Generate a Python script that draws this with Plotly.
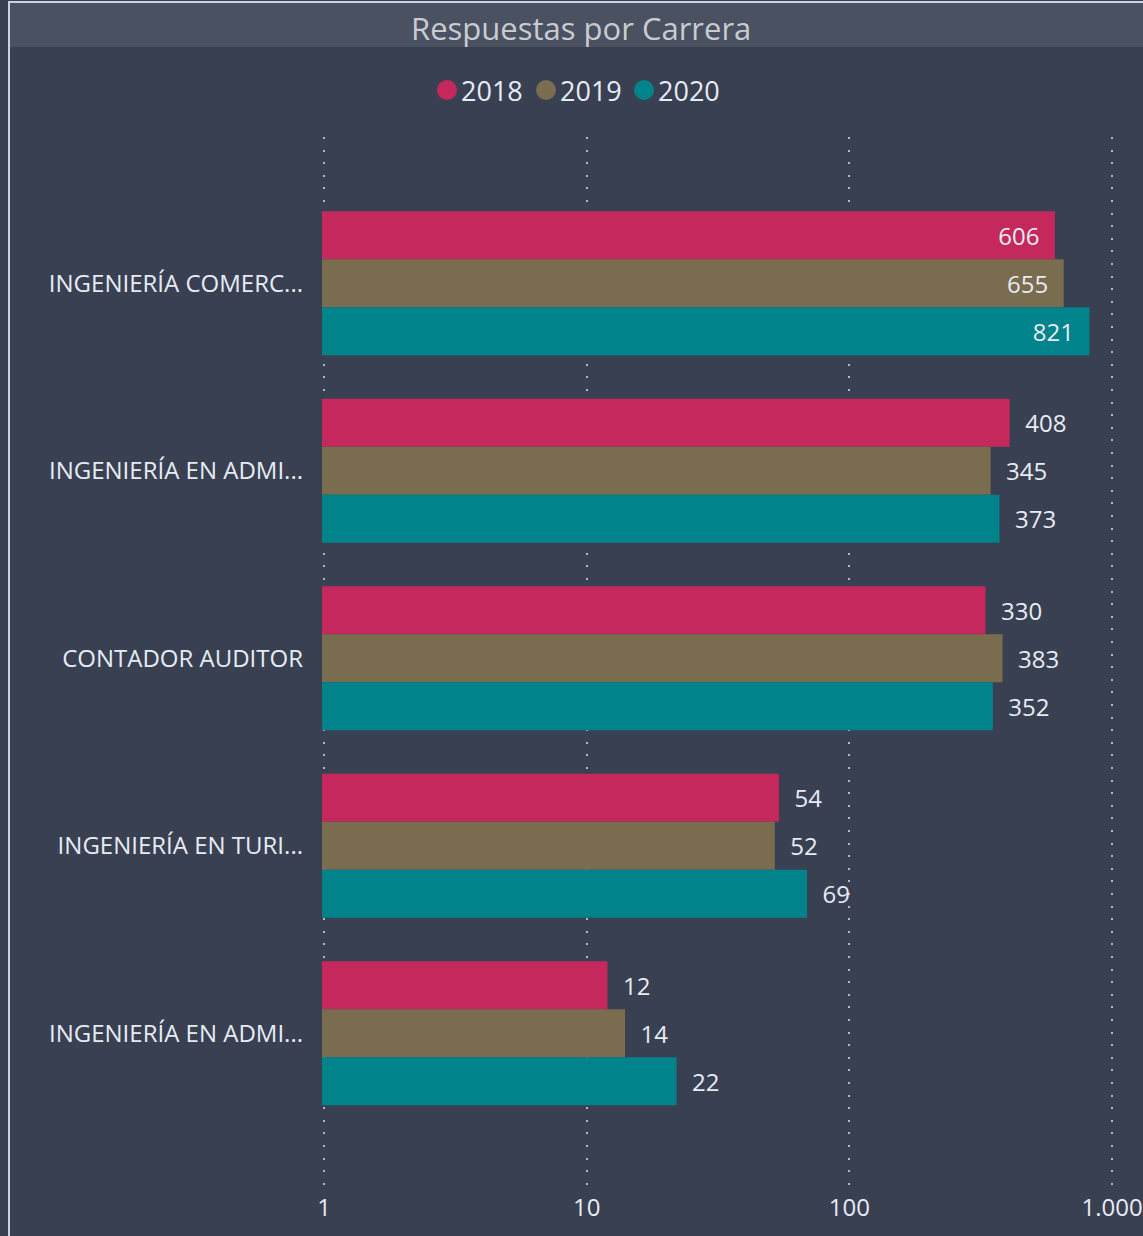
import plotly.graph_objects as go

categories = ["INGENIERÍA COMERC...", "INGENIERÍA EN ADMI...", "CONTADOR AUDITOR",
              "INGENIERÍA EN TURI...", "INGENIERÍA EN ADMI..."]
years = ["2018", "2019", "2020"]
values = {
    "2018": [606, 408, 330, 54, 12],
    "2019": [655, 345, 383, 52, 14],
    "2020": [821, 373, 352, 69, 22],
}
colors = {"2018": "#C4285D", "2019": "#7A6C4F", "2020": "#00838A"}
tick_vals = [1, 10, 100, 1000]
tick_text = ["1", "10", "100", "1.000"]

W, H = 1143, 1236
DEC = 262.3  # pixels per decade
PADPX = 2
L, R, T, B = 324 - PADPX, 1112 + PADPX, 137, 1185
pw, ph = R - L, B - T
def px_x(p): return (p - L) / pw
def px_y(p): return (B - p) / ph

BG = "#394051"
FONT = "Open Sans"
TXT = "#E6ECF5"

cat_pos = list(range(len(categories)))

fig = go.Figure()
for yr in years:
    vals = values[yr]
    pos = ["inside" if v > 500 else "outside" for v in vals]
    tmpl = ["%{x}  " if v > 500 else "  %{x}" for v in vals]
    fig.add_trace(go.Bar(
        y=cat_pos, x=vals, orientation="h", name=yr,
        marker=dict(color=colors[yr], line=dict(width=0)),
        textposition=pos, texttemplate=tmpl,
        insidetextanchor="end",
        textfont=dict(family=FONT, size=24, color=TXT),
        cliponaxis=False, showlegend=False,
    ))

shapes = [
    dict(type="rect", xref="paper", yref="paper", x0=px_x(10), x1=px_x(1150),
         y0=px_y(47), y1=px_y(3), fillcolor="#4A5161", line=dict(width=0), layer="below"),
    dict(type="line", xref="paper", yref="paper", x0=px_x(9), x1=px_x(9),
         y0=px_y(1240), y1=px_y(2), line=dict(color="#C9D2E3", width=2)),
    dict(type="line", xref="paper", yref="paper", x0=px_x(8), x1=px_x(1150),
         y0=px_y(2), y1=px_y(2), line=dict(color="#C9D2E3", width=2)),
]
annotations = [dict(text="Respuestas por Carrera", xref="paper", yref="paper",
                    x=px_x(581), y=px_y(28), xanchor="center", yanchor="middle",
                    showarrow=False, font=dict(family=FONT, size=31, color="#C8CCD2"))]
# manual legend
legend_items = [(447, 459), (546, 558), (644, 656)]
for (cx, tx), yr in zip(legend_items, years):
    shapes.append(dict(type="circle", xref="paper", yref="paper",
                       xsizemode="pixel", ysizemode="pixel",
                       xanchor=px_x(cx), yanchor=px_y(90),
                       x0=-10, x1=10, y0=-10, y1=10,
                       fillcolor=colors[yr], line=dict(width=0)))
    annotations.append(dict(text=yr, xref="paper", yref="paper", x=px_x(tx), y=px_y(90),
                            xanchor="left", yanchor="middle", showarrow=False,
                            font=dict(family=FONT, size=27, color=TXT)))

e = PADPX / DEC
fig.update_layout(
    width=W, height=H,
    margin=dict(l=L, r=W - R, t=T, b=H - B, pad=0, autoexpand=False),
    paper_bgcolor=BG, plot_bgcolor=BG,
    barmode="group", bargap=0.232, bargroupgap=0,
    showlegend=False,
    shapes=shapes, annotations=annotations,
    xaxis=dict(type="log", range=[-e, 3 + e], tickvals=tick_vals, ticktext=tick_text,
               showgrid=True, gridcolor="#B4B8C0", gridwidth=2, griddash="2px,10.6px",
               zeroline=False, showline=False, ticks="", automargin=False,
               tickfont=dict(family=FONT, size=24, color=TXT), ticklabelstandoff=6),
    yaxis=dict(range=[4.81, -0.78], tickmode="array", tickvals=cat_pos, ticktext=categories,
               showgrid=False, zeroline=False, showline=False,
               ticks="", automargin=False, tickfont=dict(family=FONT, size=24, color=TXT),
               ticklabelstandoff=18),
    font=dict(family=FONT),
)

fig.write_html("out.html", config={"displayModeBar": False},
               post_script="document.body.style.margin='0';document.body.style.background='#394051';")
